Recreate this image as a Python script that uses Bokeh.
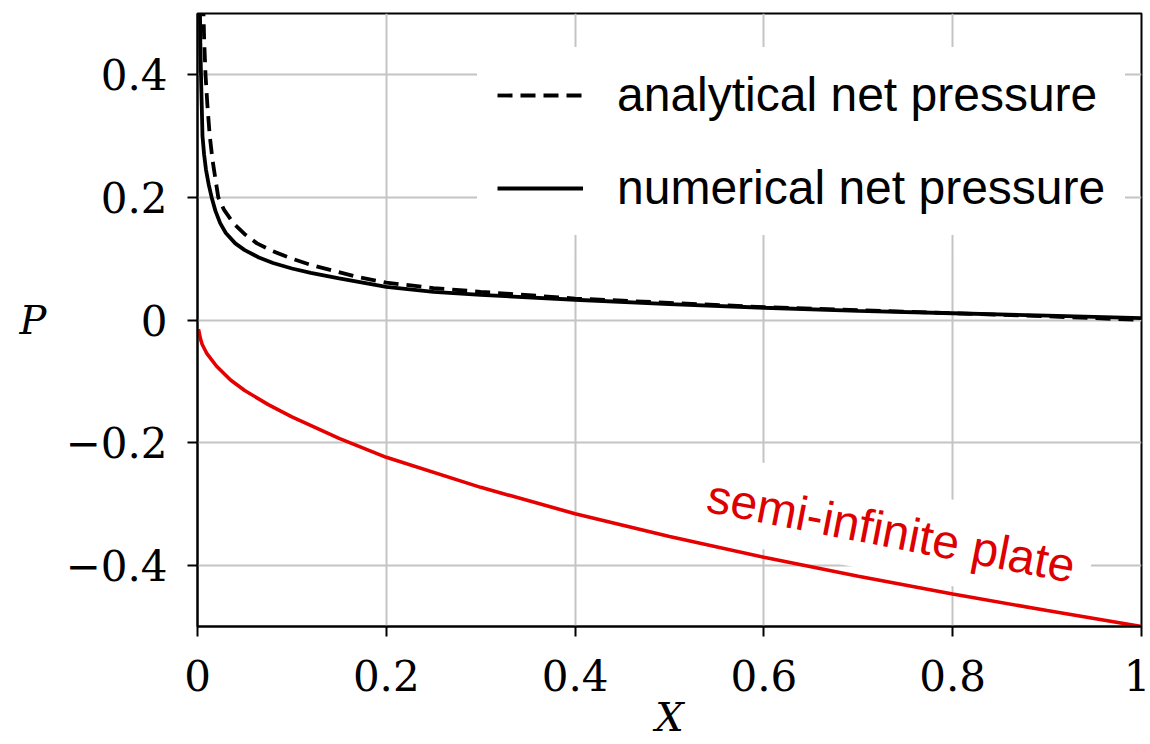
from bokeh.plotting import figure
from bokeh.models import Range1d, FixedTicker, Legend, LegendItem, Label
from bokeh.embed import file_html
from bokeh.resources import INLINE

# Numerical net pressure along the plate
x_num = [0.0025, 0.003, 0.004, 0.0053, 0.007, 0.009, 0.012, 0.015, 0.019, 0.024,
         0.03, 0.04, 0.05, 0.065, 0.08, 0.1, 0.12, 0.15, 0.2, 0.25, 0.3, 0.4,
         0.5, 0.6, 0.7, 0.8, 0.9, 1.0]
p_num = [0.52, 0.45, 0.38, 0.30, 0.27, 0.245, 0.22, 0.20, 0.178, 0.158,
         0.142, 0.125, 0.114, 0.102, 0.093, 0.084, 0.077, 0.068, 0.054, 0.046, 0.041, 0.033,
         0.026, 0.020, 0.015, 0.011, 0.007, 0.003]

# Analytical net pressure
x_ana = [0.006, 0.007, 0.0085, 0.0105, 0.013, 0.016, 0.019, 0.022, 0.028, 0.038,
         0.05, 0.063, 0.08, 0.1, 0.12, 0.145, 0.17, 0.2, 0.25, 0.3, 0.4,
         0.5, 0.6, 0.7, 0.8, 0.9, 1.0]
p_ana = [0.52, 0.46, 0.40, 0.35, 0.30, 0.26, 0.23, 0.20, 0.18, 0.158,
         0.14, 0.125, 0.112, 0.10, 0.09, 0.08, 0.07, 0.061, 0.052, 0.046, 0.035,
         0.028, 0.021, 0.016, 0.011, 0.006, 0.0]

# Semi-infinite plate pressure
x_semi = [0.001, 0.003, 0.005, 0.01, 0.02, 0.035, 0.05, 0.075, 0.1, 0.15, 0.2,
          0.3, 0.4, 0.5, 0.6, 0.7, 0.8, 0.9, 1.0]
p_semi = [-0.015, -0.03, -0.04, -0.055, -0.075, -0.098, -0.115, -0.138, -0.158, -0.193, -0.224,
          -0.273, -0.316, -0.353, -0.387, -0.418, -0.447, -0.474, -0.5]

x_ticks = [0, 0.2, 0.4, 0.6, 0.8, 1]
x_tick_labels = ["0", "0.2", "0.4", "0.6", "0.8", "1"]
y_ticks = [-0.4, -0.2, 0, 0.2, 0.4]
y_tick_labels = ["\u22120.4", "\u22120.2", "0", "0.2", "0.4"]

series_names = ["analytical net pressure", "numerical net pressure"]
plate_name = "semi-infinite plate"

SERIF = "DejaVu Serif"
SANS = "Liberation Sans"

p = figure(width=1150, height=744,
           x_range=Range1d(0, 1), y_range=Range1d(-0.5, 0.5),
           output_backend="svg", toolbar_location=None,
           min_border_left=197, min_border_right=9,
           min_border_top=13, min_border_bottom=118)

p.background_fill_color = "white"
p.border_fill_color = "white"
p.outline_line_color = "black"
p.outline_line_width = 2

# Grid
for g in (p.xgrid, p.ygrid):
    g.grid_line_color = "#c4c4c4"
    g.grid_line_width = 2
p.xgrid.ticker = FixedTicker(ticks=x_ticks)
p.ygrid.ticker = FixedTicker(ticks=y_ticks)

# Axes
p.xaxis.ticker = FixedTicker(ticks=x_ticks)
p.yaxis.ticker = FixedTicker(ticks=y_ticks)
p.xaxis.major_label_overrides = {t: s for t, s in zip(x_ticks, x_tick_labels)}
p.yaxis.major_label_overrides = {t: s for t, s in zip(y_ticks, y_tick_labels)}
for ax in (p.xaxis[0], p.yaxis[0]):
    ax.axis_line_color = "black"
    ax.axis_line_width = 2
    ax.major_tick_line_color = "black"
    ax.major_tick_line_width = 2
    ax.major_tick_out = 10
    ax.major_tick_in = 0
    ax.minor_tick_line_color = None
    ax.major_label_text_font = SERIF
    ax.major_label_text_font_size = "42px"
    ax.major_label_text_color = "black"
    ax.axis_label_text_font = SERIF
    ax.axis_label_text_font_style = "italic"
    ax.axis_label_text_font_size = "40px"
    ax.axis_label_text_color = "black"

p.xaxis.axis_label = "X"
p.xaxis.major_label_standoff = 23
p.xaxis.axis_label_standoff = 0
p.yaxis.axis_label = "P"
p.yaxis.axis_label_orientation = "horizontal"
p.yaxis.major_label_standoff = 20
p.yaxis.axis_label_standoff = 16

# Curves
r_plate = p.line(x_semi, p_semi, line_color="#e60000", line_width=3.6)
r_ana = p.line(x_ana, p_ana, line_color="black", line_width=3.8, line_dash="15 8")
r_num = p.line(x_num, p_num, line_color="black", line_width=3.8)

legend = Legend(
    items=[LegendItem(label=series_names[0], renderers=[r_ana]),
           LegendItem(label=series_names[1], renderers=[r_num])],
    location=(280, 391),
    glyph_width=86, glyph_height=50, label_height=50,
    label_standoff=34, spacing=38, padding=20, margin=0,
    label_text_font=SANS, label_text_font_size="48px", label_text_color="black",
    background_fill_color="white", background_fill_alpha=1.0,
    border_line_alpha=0,
)
p.add_layout(legend)

plate_label = Label(
    x=0.524, y=-0.281, text=plate_name,
    angle=-11, angle_units="deg",
    text_align="left", text_baseline="alphabetic",
    text_font=SANS, text_font_size="48px", text_color="#dd0000",
    background_fill_color="white", background_fill_alpha=1.0,
    padding=16,
)
p.add_layout(plate_label)

open("out.html", "w").write(file_html(p, INLINE))
